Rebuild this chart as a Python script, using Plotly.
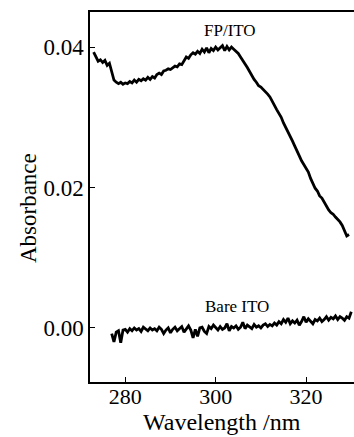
import plotly.graph_objects as go

# Absorbance spectra (0.5 nm steps)
fp_start = 273.0
fp_abs = [
    0.0393, 0.0386, 0.0380, 0.0382, 0.0378, 0.0381, 0.0374, 0.0377, 0.0366, 0.0353,
    0.0350, 0.0348, 0.0350, 0.0347, 0.0349, 0.0348, 0.0351, 0.0349, 0.0353, 0.0350,
    0.0354, 0.0352, 0.0355, 0.0353, 0.0357, 0.0354, 0.0358, 0.0356, 0.0361, 0.0363,
    0.0361, 0.0366, 0.0367, 0.0369, 0.0368, 0.0371, 0.0373, 0.0372, 0.0376, 0.0375,
    0.0381, 0.0386, 0.0384, 0.0389, 0.0392, 0.0390, 0.0394, 0.0391, 0.0397, 0.0393,
    0.0399, 0.0392, 0.0398, 0.0395, 0.0400, 0.0396, 0.0399, 0.0402, 0.0395, 0.0401,
    0.0396, 0.0400, 0.0397, 0.0394, 0.0391, 0.0386, 0.0380, 0.0376, 0.0371, 0.0365,
    0.0361, 0.0354, 0.0350, 0.0345, 0.0343, 0.0340, 0.0336, 0.0333, 0.0329, 0.0322,
    0.0317, 0.0311, 0.0306, 0.0300, 0.0292, 0.0286, 0.0279, 0.0272, 0.0266, 0.0259,
    0.0253, 0.0245, 0.0238, 0.0232, 0.0228, 0.0222, 0.0213, 0.0205, 0.0199, 0.0195,
    0.0188, 0.0185, 0.0179, 0.0172, 0.0168, 0.0164, 0.0162, 0.0158, 0.0155, 0.0151,
    0.0146, 0.0139, 0.0131, 0.0133,
]

bare_start = 277.0
bare_abs = [
    -0.0008, -0.0020, -0.0006, -0.0004, -0.0021, -0.0003, -0.0002, -0.0006, -0.0001, -0.0004,
    0.0000, -0.0003, -0.0001, -0.0005, 0.0001, -0.0002, -0.0004, 0.0000, -0.0003, -0.0001,
    -0.0004, 0.0001, -0.0002, -0.0008, -0.0003, 0.0000, -0.0007, -0.0002, 0.0001, -0.0004,
    -0.0001, 0.0002, -0.0006, -0.0002, 0.0003, -0.0003, -0.0014, -0.0002, -0.0012, 0.0000,
    0.0001, -0.0005, -0.0008, 0.0002, -0.0001, 0.0004, 0.0001, -0.0003, 0.0002, -0.0002,
    0.0000, 0.0006, -0.0004, 0.0002, 0.0000, 0.0003, -0.0002, 0.0001, 0.0008, -0.0001,
    0.0004, 0.0002, -0.0001, 0.0005, 0.0001, 0.0003, 0.0000, 0.0004, 0.0006, 0.0002,
    0.0005, 0.0003, 0.0007, 0.0004, 0.0009, 0.0006, 0.0012, 0.0008, 0.0014, 0.0006,
    0.0010, 0.0007, 0.0011, 0.0004, 0.0009, 0.0016, 0.0008, 0.0013, 0.0010, 0.0006,
    0.0012, 0.0010, 0.0014, 0.0009, 0.0012, 0.0016, 0.0011, 0.0015, 0.0013, 0.0017,
    0.0012, 0.0016, 0.0014, 0.0011, 0.0016, 0.0014, 0.0023,
]

step = 0.5
fp_wl = [fp_start + step * i for i in range(len(fp_abs))]
bare_wl = [bare_start + step * i for i in range(len(bare_abs))]

x_ticks = [280, 300, 320]
x_tick_text = ["280", "300", "320"]
y_ticks = [0.00, 0.02, 0.04]
y_tick_text = ["0.00", "0.02", "0.04"]

serif = "Liberation Serif"


def tfont(size):
    return dict(family=serif, size=size, color="black")


fig = go.Figure()
fig.add_trace(go.Scatter(x=fp_wl, y=fp_abs, mode="lines",
                         line=dict(color="black", width=2.8)))
fig.add_trace(go.Scatter(x=bare_wl, y=bare_abs, mode="lines",
                         line=dict(color="black", width=2.8)))

fig.add_annotation(x=303.2, y=0.0424, text="FP/ITO", showarrow=False,
                   font=tfont(17))
fig.add_annotation(x=304.8, y=0.0030, text="Bare ITO", showarrow=False,
                   font=tfont(17))

# axis titles placed as annotations
fig.add_annotation(xref="paper", yref="paper", x=-0.235, y=0.47,
                   xanchor="center", yanchor="middle",
                   text="Absorbance", textangle=-90, showarrow=False,
                   font=tfont(23))
fig.add_annotation(xref="paper", yref="paper", x=0.5, y=-0.108,
                   xanchor="center", yanchor="middle",
                   text="Wavelength /nm", showarrow=False,
                   font=tfont(24))

fig.update_layout(
    width=354, height=437,
    margin=dict(l=90, r=0, t=12, b=55),
    paper_bgcolor="white", plot_bgcolor="white",
    showlegend=False,
    font=tfont(22),
    xaxis=dict(
        range=[272.2, 330.6],
        tickvals=x_ticks, ticktext=x_tick_text,
        ticks="inside", ticklen=5, tickwidth=1, tickcolor="black",
        showline=True, linecolor="black", linewidth=1.5, mirror=True,
        showgrid=False, zeroline=False,
        tickfont=tfont(22),
        ticklabelstandoff=-6,
    ),
    yaxis=dict(
        range=[-0.0077, 0.045],
        tickvals=y_ticks, ticktext=y_tick_text,
        ticks="inside", ticklen=5, tickwidth=1, tickcolor="black",
        showline=True, linecolor="black", linewidth=1.5,
        showgrid=False, zeroline=False,
        tickfont=tfont(23),
    ),
)

fig.write_html("out.html")
